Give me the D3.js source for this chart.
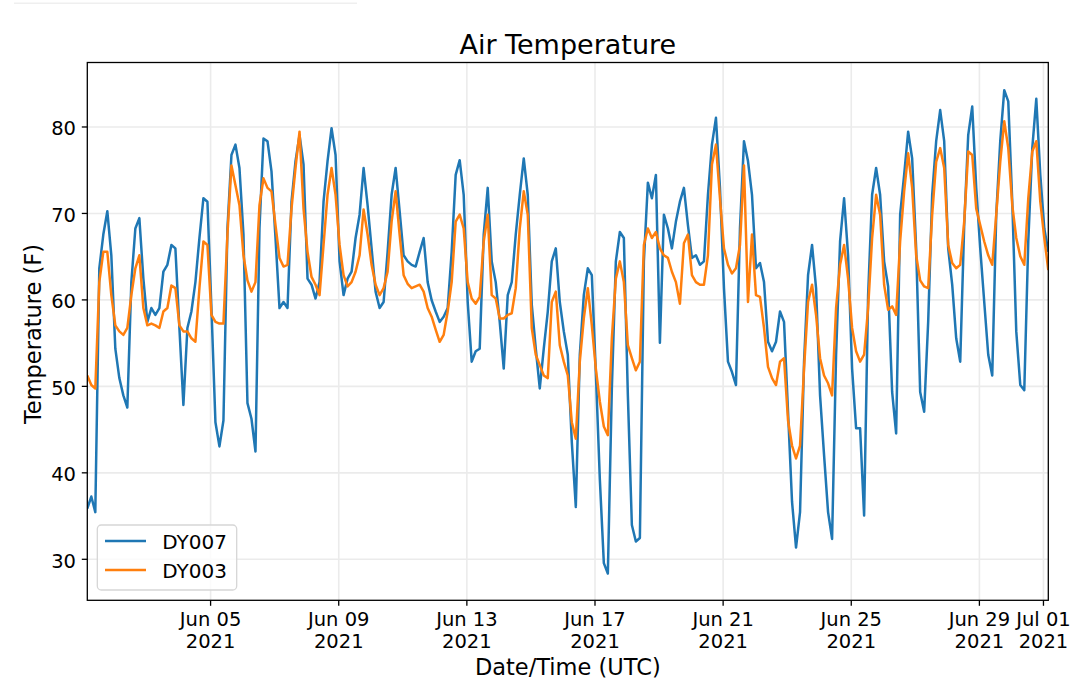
<html>
<head>
<meta charset="utf-8">
<style>
  body { margin: 0; background: #ffffff; }
  text { font-family: "DejaVu Sans", sans-serif; fill: #000; }
</style>
</head>
<body>
<div id="chartContainer">
  <script src="https://cdnjs.cloudflare.com/ajax/libs/d3/7.8.5/d3.min.js"></script>
  <script type="text/javascript">

    // Readings every 3 hours, starting Jun 01 04:00 UTC
    var startTime = "2021-06-01T04:00:00Z";
    var stepHours = 3;

    var seriesNames = ["DY007", "DY003"];
    var seriesColors = ["#1f77b4", "#ff7f0e"];

    var dy007 = [
      35.8, 37.2, 35.4, 63.6, 67.5, 70.2, 65.1, 54.3, 50.9, 48.9,
      47.5, 62.0, 68.2, 69.4, 62.4, 57.4, 59.0, 58.2, 59.0, 63.2,
      64.0, 66.3, 65.9, 56.7, 47.8, 56.7, 58.6, 62.0, 67.1, 71.7,
      71.3, 59.0, 45.8, 43.0, 46.0, 68.2, 76.7, 77.9, 75.2, 67.5,
      48.0, 46.2, 42.4, 68.2, 78.6, 78.3, 74.8, 67.1, 59.0, 59.7,
      59.0, 71.3, 76.0, 79.0, 75.6, 62.4, 61.7, 60.1, 62.0, 71.3,
      76.0, 79.8, 76.7, 64.4, 60.5, 62.4, 63.2, 67.1, 69.8, 75.2,
      70.9, 65.9, 60.9, 59.0, 59.7, 65.5, 72.1, 75.2, 70.2, 65.1,
      64.4, 64.0, 63.8, 65.5, 67.1, 62.0, 59.9, 58.6, 57.4, 58.0,
      59.0, 65.5, 74.4, 76.1, 72.1, 59.7, 52.8, 54.0, 54.3, 67.5,
      72.9, 64.4, 62.0, 57.4, 52.0, 60.5, 62.0, 67.5, 72.1, 76.3,
      72.1, 59.4, 54.3, 49.7, 54.3, 58.6, 64.4, 65.9, 59.7, 56.3,
      53.6, 43.5, 36.0, 53.6, 60.5, 63.6, 62.8, 51.6, 39.2, 29.5,
      28.3, 49.7, 64.4, 67.8, 67.1, 48.9, 33.9, 32.0, 32.4, 64.4,
      73.5, 71.7, 74.4, 55.0, 69.8, 68.2, 65.9, 69.0, 71.3, 72.9,
      68.6, 64.8, 65.1, 64.0, 64.4, 72.1, 77.9, 81.0, 72.9, 61.3,
      52.8, 51.6, 50.1, 68.2, 78.3, 76.0, 72.1, 63.6, 64.2, 62.0,
      55.1, 54.0, 55.1, 58.6, 57.4, 47.0, 36.6, 31.3, 35.4, 52.8,
      62.8, 66.3, 61.3, 48.9, 42.0, 35.4, 32.3, 53.6, 66.7, 71.7,
      65.1, 52.0, 45.1, 45.1, 35.0, 60.5, 72.1, 75.2, 72.1, 64.4,
      61.5, 49.3, 44.5, 69.8, 74.4, 79.4, 76.3, 65.9, 49.3, 47.0,
      57.4, 72.1, 78.3, 81.9, 78.3, 65.9, 61.7, 55.5, 52.8, 68.6,
      79.0, 82.3, 72.9, 65.9, 59.7, 53.6, 51.2, 69.8, 78.3, 84.2,
      82.9, 71.3, 56.3, 50.1, 49.5, 66.7, 77.5, 83.2, 74.4, 68.2,
      65.5
    ];

    var dy003 = [
      51.2, 50.1, 49.7, 62.0, 65.5, 65.5, 60.5, 57.0, 56.3, 55.9,
      56.7, 60.5, 63.6, 65.1, 59.0, 57.0, 57.2, 57.0, 56.7, 58.6,
      59.0, 61.6, 61.3, 57.0, 56.3, 56.3, 55.5, 55.1, 61.3, 66.7,
      66.3, 58.2, 57.4, 57.2, 57.2, 67.5, 75.5, 73.2, 70.9, 65.1,
      62.2, 60.9, 62.0, 70.9, 74.0, 72.9, 72.5, 68.6, 64.8, 63.8,
      64.0, 70.5, 75.2, 79.4, 70.5, 65.5, 62.6, 61.7, 60.5, 66.3,
      72.1, 75.2, 72.1, 66.3, 62.8, 61.5, 62.0, 63.2, 65.1, 70.4,
      67.5, 64.0, 61.7, 60.5, 61.3, 63.2, 69.0, 72.5, 67.5, 62.8,
      61.8, 61.3, 61.5, 61.7, 60.9, 59.0, 58.0, 56.5, 55.1, 55.9,
      58.6, 62.0, 69.0, 69.8, 68.2, 62.0, 60.1, 59.5, 60.3, 66.7,
      69.8, 60.5, 60.1, 57.8, 57.8, 58.2, 58.4, 61.3, 68.2, 72.5,
      69.8, 56.7, 53.6, 52.4, 51.2, 50.9, 59.7, 60.9, 54.7, 52.8,
      51.2, 45.8, 43.9, 52.8, 57.8, 61.3, 57.0, 52.0, 48.2, 45.3,
      44.3, 55.5, 62.4, 64.4, 62.0, 54.7, 53.2, 51.8, 52.8, 66.3,
      68.2, 67.1, 67.8, 65.9, 65.1, 64.8, 63.2, 62.0, 59.5, 66.5,
      67.5, 62.8, 62.0, 61.7, 61.7, 65.1, 75.6, 77.9, 71.7, 65.9,
      64.0, 63.0, 63.6, 66.3, 75.5, 59.7, 67.5, 60.5, 60.3, 56.7,
      52.2, 50.9, 50.1, 52.8, 53.2, 46.0, 43.1, 41.6, 43.1, 52.0,
      59.7, 61.7, 58.2, 53.2, 51.2, 50.3, 48.9, 59.0, 64.0, 66.3,
      62.4, 56.7, 54.0, 52.8, 53.6, 59.0, 67.1, 72.1, 69.8, 61.7,
      58.8, 59.2, 58.2, 66.7, 72.5, 76.9, 72.9, 65.1, 62.2, 61.5,
      61.3, 69.8, 75.9, 77.5, 75.2, 66.3, 64.2, 63.6, 64.0, 69.0,
      77.1, 76.7, 70.5, 68.6, 66.7, 65.1, 64.0, 69.8, 75.9, 80.6,
      77.5, 70.9, 67.1, 65.0, 64.0, 71.7, 77.1, 78.3, 71.3, 67.1,
      63.4
    ];

    var xTickDates = ["2021-06-05", "2021-06-09", "2021-06-13", "2021-06-17",
                      "2021-06-21", "2021-06-25", "2021-06-29", "2021-07-01"];
    var yTickValues = [30, 40, 50, 60, 70, 80];
    var yLimits = [25.2, 87.4];

    var width = 1079, height = 691;
    var plot = { left: 87.3, right: 1048.3, top: 62.5, bottom: 600.3 };

    var svg = d3.select("#chartContainer").append("svg")
      .attr("width", width)
      .attr("height", height);

    svg.append("rect").attr("width", width).attr("height", height).attr("fill", "#ffffff");

    // faint line left over at the top of the page
    svg.append("line")
      .attr("x1", 14).attr("x2", 357).attr("y1", 3.3).attr("y2", 3.3)
      .attr("stroke", "#efefef").attr("stroke-width", 1.5);

    // building the time-stamped rows for both sensors
    var t0 = new Date(startTime);
    function toRows(values) {
      return values.map(function (v, i) {
        return { time: d3.utcHour.offset(t0, i * stepHours), temp: v };
      });
    }
    var series = [toRows(dy007), toRows(dy003)];

    var allTimes = series[0].map(function (d) { return d.time; });
    var x = d3.scaleUtc()
      .domain(d3.extent(allTimes))
      .range([plot.left, plot.right]);

    var y = d3.scaleLinear()
      .domain(yLimits)
      .range([plot.bottom, plot.top]);

    var xTicks = xTickDates.map(function (s) { return new Date(s + "T00:00:00Z"); });

    // Grid lines
    var grid = svg.append("g").attr("class", "grid");
    grid.append("g")
      .attr("transform", "translate(0," + plot.bottom + ")")
      .call(d3.axisBottom(x).tickValues(xTicks).tickSize(-(plot.bottom - plot.top)).tickFormat(""))
      .call(function (g) { g.select(".domain").remove(); });
    grid.append("g")
      .attr("transform", "translate(" + plot.left + ",0)")
      .call(d3.axisLeft(y).tickValues(yTickValues).tickSize(-(plot.right - plot.left)).tickFormat(""))
      .call(function (g) { g.select(".domain").remove(); });
    grid.selectAll("line").attr("stroke", "#ebebeb").attr("stroke-width", 1.6);

    // Clip so lines stay inside the axes
    svg.append("clipPath").attr("id", "plotClip")
      .append("rect")
      .attr("x", plot.left).attr("y", plot.top)
      .attr("width", plot.right - plot.left).attr("height", plot.bottom - plot.top);

    var line = d3.line()
      .x(function (d) { return x(d.time); })
      .y(function (d) { return y(d.temp); });

    svg.append("g").attr("clip-path", "url(#plotClip)")
      .selectAll("path")
      .data(series)
      .enter()
      .append("path")
        .attr("d", line)
        .attr("fill", "none")
        .attr("stroke", function (d, i) { return seriesColors[i]; })
        .attr("stroke-width", 2.5)
        .attr("stroke-linejoin", "round");

    // Axes
    var xAxis = svg.append("g")
      .attr("transform", "translate(0," + plot.bottom + ")")
      .call(d3.axisBottom(x).tickValues(xTicks).tickSize(5.5).tickFormat(""));
    xAxis.select(".domain").remove();
    xAxis.selectAll("line").attr("stroke", "#000").attr("stroke-width", 1.3);

    var fmtDay = d3.utcFormat("%b %d"), fmtYear = d3.utcFormat("%Y");
    xAxis.selectAll(".tick").each(function (d) {
      var t = d3.select(this).select("text")
        .attr("y", 0).attr("dy", null)
        .style("font-size", "19.5px")
        .attr("fill", "#000")
        .attr("text-anchor", "middle");
      t.append("tspan").attr("x", 0).attr("y", 25.7).text(fmtDay(d));
      t.append("tspan").attr("x", 0).attr("y", 47.7).text(fmtYear(d));
    });

    var yAxis = svg.append("g")
      .attr("transform", "translate(" + plot.left + ",0)")
      .call(d3.axisLeft(y).tickValues(yTickValues).tickSize(5.5).tickPadding(5.8));
    yAxis.select(".domain").remove();
    yAxis.selectAll("line").attr("stroke", "#000").attr("stroke-width", 1.3);
    yAxis.selectAll("text")
      .attr("dy", "0.42em")
      .attr("fill", "#000")
      .style("font-size", "19.5px")
      .style("font-family", "DejaVu Sans, sans-serif");

    // Frame around the axes
    svg.append("rect")
      .attr("x", plot.left).attr("y", plot.top)
      .attr("width", plot.right - plot.left).attr("height", plot.bottom - plot.top)
      .attr("fill", "none").attr("stroke", "#000").attr("stroke-width", 1.3);

    // Title and axis labels
    svg.append("text")
      .attr("x", (plot.left + plot.right) / 2).attr("y", 54.3)
      .attr("text-anchor", "middle")
      .style("font-size", "27px")
      .text("Air Temperature");

    svg.append("text")
      .attr("x", (plot.left + plot.right) / 2).attr("y", 675)
      .attr("text-anchor", "middle")
      .style("font-size", "22.5px")
      .text("Date/Time (UTC)");

    svg.append("text")
      .attr("transform", "translate(41,334) rotate(-90)")
      .attr("text-anchor", "middle")
      .style("font-size", "22.5px")
      .text("Temperature (F)");

    // Legend
    var legend = svg.append("g");
    legend.append("rect")
      .attr("x", 97.3).attr("y", 525)
      .attr("width", 139.4).attr("height", 65)
      .attr("rx", 4).attr("ry", 4)
      .attr("fill", "#ffffff").attr("fill-opacity", 0.8)
      .attr("stroke", "#d6d6d6").attr("stroke-width", 1.3);

    seriesNames.forEach(function (name, i) {
      var ly = 541 + i * 29;
      legend.append("line")
        .attr("x1", 105).attr("x2", 146)
        .attr("y1", ly).attr("y2", ly)
        .attr("stroke", seriesColors[i]).attr("stroke-width", 2.5);
      legend.append("text")
        .attr("x", 162.3).attr("y", ly + 8.3)
        .style("font-size", "20px")
        .text(name);
    });
  </script>
</div>
</body>
</html>
